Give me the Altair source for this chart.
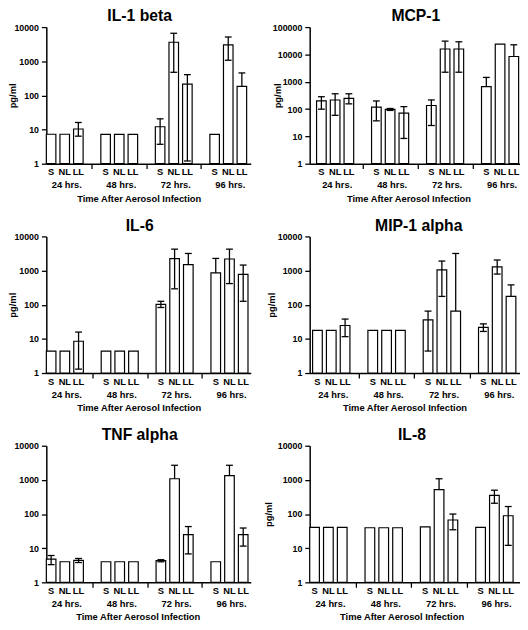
import altair as alt
import pandas as pd

FONT = "Liberation Sans"

times = ["24 hrs.", "48 hrs.", "72 hrs.", "96 hrs."]
conds = ["S", "NL", "LL"]
x_title = "Time After Aerosol Infection"
y_title = "pg/ml"

# values in order: 24h S, NL, LL, 48h S, NL, LL, 72h S, NL, LL, 96h S, NL, LL
# lo = None with hi given: only the upper whisker is drawn
il1b_mean = [7.3, 7.3, 10.4, 7.2, 7.2, 7.2, 12.1, 3600, 214, 7.2, 3030, 183]
il1b_lo = [None, None, 6.4, None, None, None, 3.7, 475, 1.2, None, 1070, None]
il1b_hi = [None, None, 16.1, None, None, None, 20.6, 6600, 405, None, 5130, 455]

mcp1_mean = [198, 215, 247, 117, 97, 71, 135, 15800, 15800, 665, 24000, 8400]
mcp1_lo = [99, 59, 155, 37, 89, 8.4, 25, 2230, 2230, None, None, None]
mcp1_hi = [283, 363, 363, 198, 105, 123, 216, 30700, 29000, 1440, None, 22500]

il6_mean = [4.4, 4.4, 8.5, 4.4, 4.4, 4.4, 103, 2230, 1490, 861, 2180, 770]
il6_lo = [None, None, 1.3, None, None, None, 83, 292, None, None, 416, 126]
il6_hi = [None, None, 15.8, None, None, None, 126, 4240, 3170, 2270, 4240, 1450]

mip1a_mean = [17.7, 17.7, 24.6, 17.7, 17.7, 17.7, 36, 1050, 65, 21.6, 1290, 175]
mip1a_lo = [None, None, 11.6, None, None, None, 4.4, 175, None, 16.5, 790, None]
mip1a_hi = [None, None, 38, None, None, None, 65, 1900, 3170, 27.5, 2040, 381]

tnfa_mean = [4.8, 4.0, 4.4, 4.0, 4.0, 4.0, 4.3, 1080, 25, 4.0, 1340, 25]
tnfa_lo = [3.3, None, 3.8, None, None, None, 4.0, None, 6.8, None, None, 11.5]
tnfa_hi = [6.1, None, 5.0, None, None, None, 4.6, 2680, 43, None, 2680, 39]

il8_mean = [40.5, 40.5, 40.5, 39.6, 39.6, 39.6, 42, 522, 67, 40.5, 351, 89]
il8_lo = [None, None, None, None, None, None, None, None, 34.6, None, 207, 12.1]
il8_hi = [None, None, None, None, None, None, None, 1080, 100, None, 500, 166]

H = 139
WL = 208
WR = 214


def make_panel(title, mean, lo, hi, ymax_exp, w, xdom, title_dx, xt_x, yt_x, show_ytitle=True):
    rows = []
    for k, (m, l, u) in enumerate(zip(mean, lo, hi)):
        g, j = divmod(k, 3)
        pos = 4 * g + j
        rows.append(dict(time=times[g], cond=conds[j], left=pos, right=pos + 0.7,
                         center=pos + 0.35, capl=pos + 0.1, capr=pos + 0.6,
                         value=m, lo=l, hi=u, base=1))
    df = pd.DataFrame(rows)
    gdf = pd.DataFrame({"time": times, "gx": [4 * g + 1.5 for g in range(4)]})

    xscale = alt.Scale(domain=xdom, nice=False, zero=False)
    yscale = alt.Scale(type="log", domain=[1, 10 ** ymax_exp], nice=False)

    xaxis = alt.Axis(values=[3.35, 7.35, 11.35], labels=False, tickSize=5,
                     title=x_title, titleX=xt_x, titleY=38, titleAlign="center",
                     titleBaseline="alphabetic", titleFontSize=9.5,
                     titleFontWeight="bold", titleFont=FONT)
    yaxis = alt.Axis(values=[10 ** e for e in range(ymax_exp + 1)], format="d",
                     tickSize=5, labelPadding=3,
                     title=y_title if show_ytitle else "",
                     titleX=yt_x, titleY=H / 2, titleAngle=270, titleAlign="center",
                     titleBaseline="bottom", titleFontSize=9.5,
                     titleFontWeight="bold", titleFont=FONT)

    base = alt.Chart(df)
    bars = base.mark_rect(fill="white", stroke="black", strokeWidth=1.2).encode(
        x=alt.X("left:Q", scale=xscale, axis=xaxis),
        x2="right:Q",
        y=alt.Y("value:Q", scale=yscale, axis=yaxis),
        y2="base:Q",
    )
    eb = base.transform_filter("isValid(datum.hi)").transform_calculate(
        start="isValid(datum.lo) ? datum.lo : datum.value"
    )
    err = eb.mark_rule(color="black", strokeWidth=1.3).encode(
        x=alt.X("center:Q"),
        y=alt.Y("start:Q"),
        y2="hi:Q",
    )
    cap_hi = eb.mark_rule(color="black", strokeWidth=1.3).encode(
        x=alt.X("capl:Q"), x2="capr:Q",
        y=alt.Y("hi:Q"),
    )
    cap_lo = base.transform_filter("isValid(datum.lo)").mark_rule(
        color="black", strokeWidth=1.3).encode(
        x=alt.X("capl:Q"), x2="capr:Q",
        y=alt.Y("lo:Q"),
    )
    labels = base.mark_text(font=FONT, fontWeight="bold", fontSize=9.5,
                            baseline="alphabetic", align="center", color="black").encode(
        x=alt.X("center:Q"),
        y=alt.value(H + 12),
        text="cond:N",
    )
    glabels = alt.Chart(gdf).mark_text(font=FONT, fontWeight="bold", fontSize=9.5,
                                       baseline="alphabetic", align="center", color="black").encode(
        x=alt.X("gx:Q"),
        y=alt.value(H + 25),
        text="time:N",
    )
    return alt.layer(bars, err, cap_hi, cap_lo, labels, glabels).properties(
        width=w, height=H,
        title=alt.TitleParams(text=title, fontSize=16, font=FONT, fontWeight="bold",
                              anchor="middle", dx=title_dx, offset=-14,
                              baseline="alphabetic", color="black"),
    )


p1 = make_panel("IL-1 beta", il1b_mean, il1b_lo, il1b_hi, 4, WL, [0, 15.0], -9, 94, -29)
p2 = make_panel("MCP-1", mcp1_mean, mcp1_lo, mcp1_hi, 5, WR, [-0.5, 14.8], 1, 100.5, -28)
p3 = make_panel("IL-6", il6_mean, il6_lo, il6_hi, 4, WL, [0, 14.9], -9, 94, -29)
p4 = make_panel("MIP-1 alpha", mip1a_mean, mip1a_lo, mip1a_hi, 4, WR, [-0.21, 15.0], 4, 96.5, -34)
p5 = make_panel("TNF alpha", tnfa_mean, tnfa_lo, tnfa_hi, 4, WL, [0, 14.9], -9, 93, -29, show_ytitle=False)
p6 = make_panel("IL-8", il8_mean, il8_lo, il8_hi, 4, WR, [0, 15.2], -3, 93.5, -37)

chart = alt.concat(
    p1, p2, p3, p4, p5, p6, columns=2,
    spacing={"row": 74, "column": 60}, bounds="flush",
).properties(
    padding={"top": -5, "left": 0, "right": 0, "bottom": 0}
).configure_view(stroke=None).configure_axis(
    domainColor="black", domainWidth=1.5, tickColor="black", tickWidth=1.3,
    labelColor="black", titleColor="black", labelFont=FONT, labelFontWeight="bold",
    labelFontSize=9, grid=False,
)

chart.save("out.html", embed_options={"renderer": "svg", "actions": False})
